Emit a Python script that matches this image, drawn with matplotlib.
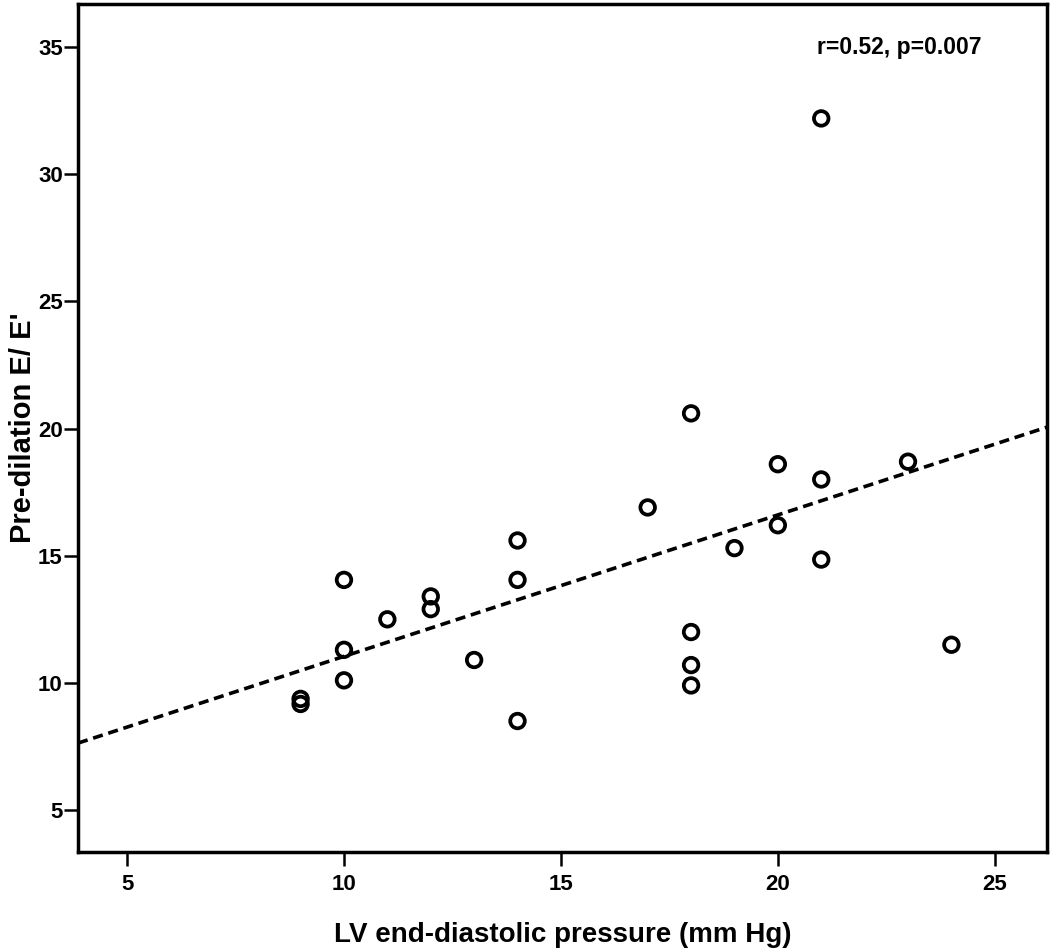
import numpy as np
import matplotlib
matplotlib.use("Agg")
import matplotlib.pyplot as plt

# LV end-diastolic pressure (mm Hg) vs pre-dilation E/E'
lvedp = [9, 9, 10, 10, 10, 11, 12, 12, 13, 14, 14, 14, 17,
         18, 18, 18, 18, 19, 20, 20, 21, 21, 21, 23, 24]
ee = [9.37, 9.17, 14.05, 11.3, 10.1, 12.5, 13.4, 12.9, 10.9, 15.6, 14.05, 8.5, 16.9,
      20.6, 12.0, 10.7, 9.9, 15.3, 18.6, 16.2, 32.2, 18.0, 14.85, 18.7, 11.5]
stat_text = "r=0.52, p=0.007"

plt.rcParams['font.family'] = ['Liberation Sans', 'DejaVu Sans']
plt.rcParams['font.weight'] = 'bold'

fig = plt.figure(figsize=(10.5, 9.5), dpi=100)
ax = fig.add_axes([0.0743, 0.1032, 0.9227, 0.8926])

# regression line (least squares)
slope, intercept = np.polyfit(lvedp, ee, 1)
xl = np.array([3.87, 26.2])
ax.plot(xl, intercept + slope * xl, color='black', linestyle=(0, (2.8, 1.6)), lw=2.6, zorder=2)

ax.scatter(lvedp, ee, s=110, facecolors='none', edgecolors='black', linewidths=2.7, zorder=3)

ax.set_xlim(3.87, 26.2)
ax.set_ylim(3.35, 36.7)
ax.set_xticks([5, 10, 15, 20, 25])
ax.set_yticks([5, 10, 15, 20, 25, 30, 35])

for s in ax.spines.values():
    s.set_linewidth(2.5)
ax.tick_params(axis='x', length=10, width=1.8, labelsize=16, pad=6)
ax.tick_params(axis='y', length=10, width=1.8, labelsize=16, pad=1)
for lab in ax.get_xticklabels() + ax.get_yticklabels():
    lab.set_fontweight('bold')

ax.set_xlabel("LV end-diastolic pressure (mm Hg)", fontsize=20, fontweight='bold', labelpad=19)
ax.set_ylabel("Pre-dilation E/ E'", fontsize=21, fontweight='bold', labelpad=1)

ax.text(0.848, 0.949, stat_text, transform=ax.transAxes, fontsize=16.5, fontweight='bold',
        ha='center', va='center')

fig.savefig("out.png", dpi=100)
